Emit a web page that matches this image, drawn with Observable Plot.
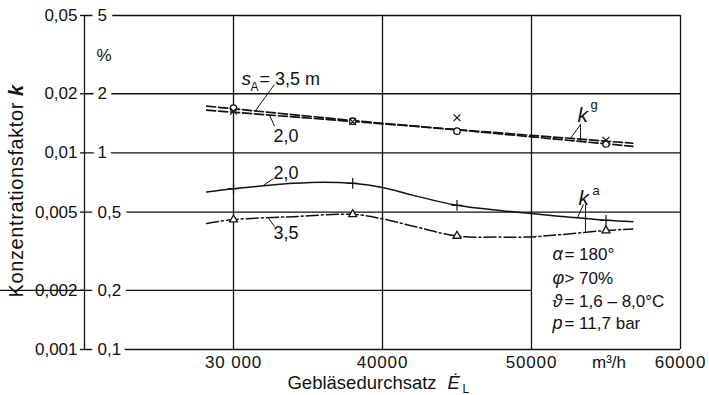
<!DOCTYPE html>
<html>
<head>
<meta charset="utf-8">
<script src="https://cdn.jsdelivr.net/npm/d3@7"></script>
<script src="https://cdn.jsdelivr.net/npm/@observablehq/plot@0.6"></script>
<style>
  html, body { margin: 0; padding: 0; background: #fff; }
</style>
</head>
<body>
<div id="chart"></div>
<script>
// ---- tick labels ----
const yTicks = [0.1, 0.2, 0.5, 1, 2, 5];                 // % scale
const yInnerLabels = ["0,1", "0,2", "0,5", "1", "2", "5"];
const yOuterLabels = ["0,001", "0,002", "0,005", "0,01", "0,02", "0,05"];
const xTicks = [30000, 40000, 50000, 60000];
const xTickLabels = ["30 000", "40000", "50000", "60000"];
const xGrid = [20000, 30000, 40000, 50000, 60000];

// ---- k^g (dashed fitted lines) ----
const kgLineX = [28200, 38000, 45000, 56800];
const kg35Line = [1.73, 1.46, 1.31, 1.08];   // s_A = 3,5 m
const kg20Line = [1.65, 1.445, 1.314, 1.12]; // s_A = 2,0 m
const kgPointX = [30000, 38000, 45000, 55000];
const kg35Points = [1.69, 1.45, 1.29, 1.11]; // circles
const kg20Points = [1.63, 1.44, 1.51, 1.16]; // crosses

// ---- k^a curves ----
const ka20X = [28200, 30000, 32000, 34000, 36000, 38000, 40000, 42000, 45000, 48000, 50000, 52000, 55000, 56800];
const ka20Y = [0.632, 0.658, 0.68, 0.70, 0.71, 0.70, 0.667, 0.61, 0.541, 0.508, 0.492, 0.475, 0.454, 0.447];
const ka35X = [28200, 30000, 34000, 38000, 40000, 42000, 45000, 48000, 50000, 52000, 55000, 56800];
const ka35Y = [0.438, 0.458, 0.474, 0.487, 0.462, 0.425, 0.378, 0.373, 0.374, 0.384, 0.403, 0.41];
const kaPointX = [30000, 38000, 45000, 55000];
const ka20Points = [0.658, 0.700, 0.541, 0.454]; // plus
const ka35Points = [0.458, 0.487, 0.378, 0.403]; // triangles

// ---- conditions box ----
const condSymbols = ["α", "φ", "ϑ", "p"];
const condTexts = ["= 180°", "> 70%", "= 1,6 – 8,0°C", "= 11,7 bar"];
const condY = [0.304, 0.230, 0.1755, 0.1357];

const tbl = (xs, ys) => xs.map((x, i) => ({x, y: ys[i]}));

const FONT = '"Liberation Sans", Arial, Helvetica, sans-serif';
const ink = "#111";

const chart = Plot.plot({
  width: 709,
  height: 395,
  marginLeft: 84,
  marginRight: 29,
  marginTop: 15,
  marginBottom: 46,
  style: {fontFamily: FONT, background: "white", color: ink, overflow: "visible"},
  x: {domain: [20000, 60000], axis: null},
  y: {type: "log", domain: [0.1, 5], axis: null},
  marks: [
    // grid / frame
    Plot.ruleY(yTicks.filter(d => d !== 0.2), {stroke: ink, strokeWidth: 1.3}),
    Plot.ruleY([0.2], {x2: 50000, stroke: ink, strokeWidth: 1.3}),
    Plot.ruleX(xGrid, {stroke: ink, strokeWidth: 1.3}),
    Plot.ruleY(yTicks, {x1: 20000, x2: 20000, insetLeft: -4, stroke: ink, strokeWidth: 1.3}),
    // inner % labels (with halo breaking the grid lines)
    Plot.text(yTicks, {x: 20000, y: d => d, text: (d, i) => yInnerLabels[i], dx: 13, textAnchor: "start",
      fontSize: 17, fill: ink, stroke: "white", strokeWidth: 12}),
    // outer k labels
    Plot.text(yTicks, {x: 20000, y: d => d, text: (d, i) => yOuterLabels[i], dx: -7, textAnchor: "end",
      fontSize: 17, fill: ink}),
    Plot.text(["%"], {x: 20000, y: 3.13, dx: 12, textAnchor: "start", fontSize: 17, fill: ink}),
    // x tick labels
    Plot.text(xTicks, {x: d => d, y: 0.1, dy: 13, text: (d, i) => xTickLabels[i], fontSize: 17, fill: ink}),
    Plot.text(["m³/h"], {x: 55200, y: 0.1, dy: 13, fontSize: 17, fill: ink}),
    // axis titles
    Plot.text(["Gebläsedurchsatz"], {x: 33623, frameAnchor: "bottom", dy: 39, textAnchor: "start", fontSize: 18.5, fill: ink}),
    Plot.text(["Ė"], {x: 44361, frameAnchor: "bottom", dy: 39, textAnchor: "start", fontSize: 18.5, fontStyle: "italic", fill: ink}),
    Plot.text(["L"], {x: 45370, frameAnchor: "bottom", dy: 43, textAnchor: "start", fontSize: 12, fill: ink}),
    Plot.text(["Konzentrationsfaktor"], {frameAnchor: "left", y: 0.184, dx: -68, rotate: -90, textAnchor: "start", fontSize: 20, fill: ink}),
    Plot.text(["k"], {frameAnchor: "left", y: 1.95, dx: -68, rotate: -90, textAnchor: "start", fontSize: 20, fontStyle: "italic", fontWeight: "bold", fill: ink}),

    // k^g lines
    Plot.line(tbl(kgLineX, kg35Line), {x: "x", y: "y", stroke: ink, strokeWidth: 1.7, strokeDasharray: "9,3"}),
    Plot.line(tbl(kgLineX, kg20Line), {x: "x", y: "y", stroke: ink, strokeWidth: 1.7, strokeDasharray: "9,3"}),
    // k^a curves
    Plot.line(tbl(ka20X, ka20Y), {x: "x", y: "y", stroke: ink, strokeWidth: 1.5, curve: "catmull-rom"}),
    Plot.line(tbl(ka35X, ka35Y), {x: "x", y: "y", stroke: ink, strokeWidth: 1.5, curve: "catmull-rom", strokeDasharray: "12,3,2,3"}),

    // markers
    Plot.dot(tbl(kgPointX, kg35Points), {x: "x", y: "y", symbol: "circle", r: 3.2, fill: "white", stroke: ink, strokeWidth: 1.3}),
    Plot.dot(tbl(kgPointX, kg20Points), {x: "x", y: "y", symbol: "times", r: 3.2, stroke: ink, strokeWidth: 1.2}),
    Plot.dot(tbl(kaPointX, ka20Points), {x: "x", y: "y", symbol: "plus", r: 3.6, stroke: ink, strokeWidth: 1.2}),
    Plot.dot(tbl(kaPointX, ka35Points), {x: "x", y: "y", symbol: "triangle2", r: 3.8, fill: "white", stroke: ink, strokeWidth: 1.3}),

    // curve labels
    Plot.text(["s"], {x: 30537, y: 2.37, textAnchor: "start", fontSize: 19, fontStyle: "italic", fill: ink}),
    Plot.text(["A"], {x: 31140, y: 2.16, textAnchor: "start", fontSize: 12, fill: ink}),
    Plot.text(["= 3,5 m"], {x: 31745, y: 2.37, textAnchor: "start", fontSize: 18, fill: ink}),
    Plot.text(["2,0"], {x: 32684, y: 1.216, textAnchor: "start", fontSize: 18, fill: ink}),
    Plot.text(["2,0"], {x: 32684, y: 0.786, textAnchor: "start", fontSize: 18, fill: ink}),
    Plot.text(["3,5"], {x: 32684, y: 0.389, textAnchor: "start", fontSize: 18, fill: ink}),
    Plot.text(["k"], {x: 53086, y: 1.55, textAnchor: "start", fontSize: 21, fontStyle: "italic", fill: ink}),
    Plot.text(["g"], {x: 53958, y: 1.763, textAnchor: "start", fontSize: 13, fill: ink}),
    Plot.text(["k"], {x: 53154, y: 0.585, textAnchor: "start", fontSize: 21, fontStyle: "italic", fill: ink}),
    Plot.text(["a"], {x: 54094, y: 0.644, textAnchor: "start", fontSize: 13, fill: ink}),

    // leader lines
    Plot.link([
      {x1: 32751, y1: 2.23, x2: 31476, y2: 1.64},
      {x1: 32415, y1: 1.559, x2: 32751, y2: 1.37},
      {x1: 32013, y1: 0.684, x2: 32684, y2: 0.741},
      {x1: 32348, y1: 0.466, x2: 32751, y2: 0.422},
      {x1: 53289, y1: 1.395, x2: 52617, y2: 1.185},
      {x1: 53289, y1: 1.395, x2: 53289, y2: 1.14},
      {x1: 53489, y1: 0.547, x2: 53086, y2: 0.468},
      {x1: 53624, y1: 0.545, x2: 53624, y2: 0.394}
    ], {x1: "x1", y1: "y1", x2: "x2", y2: "y2", stroke: ink, strokeWidth: 1}),

    // conditions
    Plot.text(condSymbols, {x: 51407, y: (d, i) => condY[i], textAnchor: "start", fontSize: 18, fontStyle: "italic", fill: ink}),
    Plot.text(condTexts, {x: 52213, y: (d, i) => condY[i], textAnchor: "start", fontSize: 17, fill: ink})
  ]
});
// typographic tweaks: wider lettering like the original
d3.select(chart).selectAll("text")
  .filter(function () { return xTickLabels.includes(this.textContent); })
  .attr("letter-spacing", "0.8px");
d3.select(chart).selectAll("text")
  .filter(function () { return this.textContent === "Konzentrationsfaktor"; })
  .attr("letter-spacing", "0.6px");
document.getElementById("chart").appendChild(chart);
</script>
</body>
</html>
